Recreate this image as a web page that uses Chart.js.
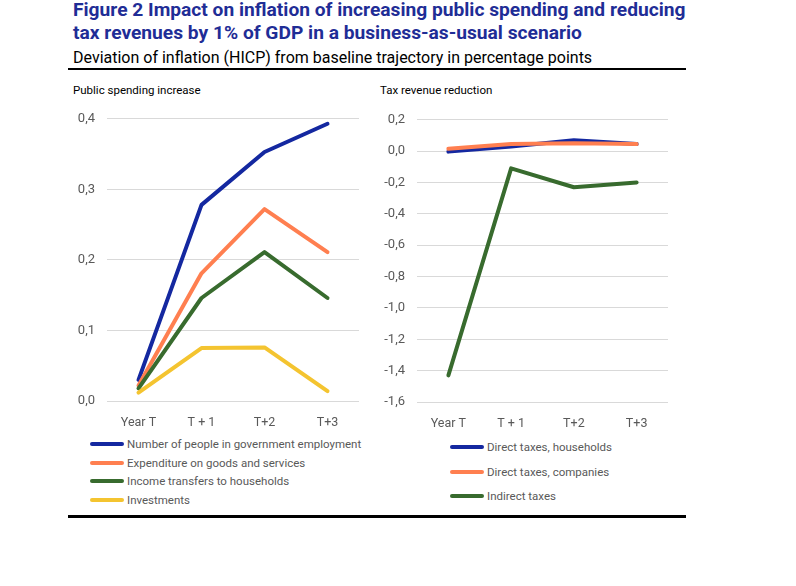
<!DOCTYPE html>
<html>
<head>
<meta charset="utf-8">
<script src="https://cdn.jsdelivr.net/npm/chart.js@4"></script>
<style>
  body { margin: 0; background: #fff; }
  #page { position: relative; width: 796px; height: 586px; background: #fff; overflow: hidden; font-family: Roboto, "DejaVu Sans", sans-serif; }
  .title { position: absolute; left: 73px; color: #1f2d96; font-weight: bold; font-size: 19.2px; line-height: 22px; white-space: nowrap; }
  .sub { position: absolute; left: 73px; top: 48px; font-size: 16px; line-height: 19px; color: #000; white-space: nowrap; }
  .rule { position: absolute; left: 68px; width: 618px; background: #000; }
  .panel { position: absolute; font-size: 11.5px; color: #000; top: 83px; }
  canvas { position: absolute; }
  .legend { position: absolute; font-size: 11.5px; color: #595959; }
  .legend div { position: relative; height: 18.7px; line-height: 18px; padding-left: 37px; white-space: nowrap; }
  .legend span { position: absolute; left: 0; top: 7px; width: 34px; height: 4px; border-radius: 2px; }
</style>
</head>
<body>
<div id="page">
  <div class="title" style="top:-1px">Figure 2 Impact on inflation of increasing public spending and reducing</div>
  <div class="title" style="top:22px">tax revenues by 1% of GDP in a business-as-usual scenario</div>
  <div class="sub">Deviation of inflation (HICP) from baseline trajectory in percentage points</div>
  <div class="rule" style="top:68px;height:2px"></div>
  <div class="panel" style="left:73px">Public spending increase</div>
  <div class="panel" style="left:380px">Tax revenue reduction</div>
  <canvas id="spendChart" width="299" height="332" style="left:60px;top:99px"></canvas>
  <canvas id="taxChart" width="298" height="332" style="left:370px;top:100px"></canvas>
  <div class="legend" id="spendLegend" style="left:90px;top:435px"></div>
  <div class="legend" id="taxLegend" style="left:450px;top:438px;"></div>
  <div class="rule" style="top:515px;height:3px"></div>
</div>
<script>
// カテゴリ
var years = ["Year T", "T + 1", "T+2", "T+3"];

// Public spending increase
var spendLabels = ["Number of people in government employment", "Expenditure on goods and services", "Income transfers to households", "Investments"];
var govEmployment = [0.030, 0.278, 0.353, 0.393];
var goodsServices = [0.022, 0.181, 0.272, 0.211];
var incomeTransfers = [0.018, 0.146, 0.211, 0.146];
var investments = [0.012, 0.075, 0.076, 0.014];
var spendTicks = [0.0, 0.1, 0.2, 0.3, 0.4];

// Tax revenue reduction
var taxLabels = ["Direct taxes, households", "Direct taxes, companies", "Indirect taxes"];
var directHouseholds = [-0.003, 0.030, 0.070, 0.045];
var directCompanies = [0.015, 0.045, 0.050, 0.045];
var indirectTaxes = [-1.43, -0.11, -0.23, -0.20];
var taxTicks = [-1.6, -1.4, -1.2, -1.0, -0.8, -0.6, -0.4, -0.2, 0.0, 0.2];

var colors = ["#1428a0", "#ff7f50", "#386b2e", "#f4c430"];

function fmt(v) {
    return (Math.round(v * 10) / 10).toFixed(1).replace(".", ",");
}

function makeChart(id, legendId, labels, series, ticks) {
    var datasets = series.map(function (d, i) {
        return {
            label: labels[i],
            data: d,
            borderColor: colors[i],
            backgroundColor: colors[i],
            borderWidth: 4,
            pointRadius: 0,
            tension: 0,
            borderCapStyle: "round",
            borderJoinStyle: "round",
            // 後の系列を上に描く
            order: -i
        };
    });

    var chart = new Chart(document.getElementById(id), {
        type: "line",
        data: { labels: years, datasets: datasets },
        options: {
            responsive: false,
            animation: false,
            layout: { padding: { top: 8, right: 0, left: 0, bottom: 0 } },
            plugins: { legend: { display: false }, tooltip: { enabled: false } },
            scales: {
                x: {
                    offset: true,
                    grid: { display: false },
                    border: { display: false },
                    ticks: { color: "#595959", font: { size: 12.5, family: "Roboto" }, padding: 6, maxRotation: 0 },
                    afterFit: function (s) { s.height = 30; }
                },
                y: {
                    min: ticks[0],
                    max: ticks[ticks.length - 1],
                    afterBuildTicks: function (s) { s.ticks = ticks.map(function (v) { return { value: v }; }); },
                    grid: { color: "#d9d9d9", lineWidth: 1, drawTicks: false },
                    border: { display: false },
                    ticks: { color: "#595959", font: { size: 13, family: "Roboto" }, padding: 12, callback: fmt },
                    afterFit: function (s) { s.width = 47; }
                }
            }
        }
    });

    // 凡例
    var box = document.getElementById(legendId);
    labels.forEach(function (l, i) {
        var row = document.createElement("div");
        var sw = document.createElement("span");
        sw.style.background = colors[i];
        row.appendChild(sw);
        row.appendChild(document.createTextNode(l));
        box.appendChild(row);
    });
    return chart;
}

makeChart("spendChart", "spendLegend", spendLabels, [govEmployment, goodsServices, incomeTransfers, investments], spendTicks);
makeChart("taxChart", "taxLegend", taxLabels, [directHouseholds, directCompanies, indirectTaxes], taxTicks);
document.querySelectorAll("#taxLegend div").forEach(function (d) { d.style.height = "24.5px"; });
</script>
</body>
</html>
